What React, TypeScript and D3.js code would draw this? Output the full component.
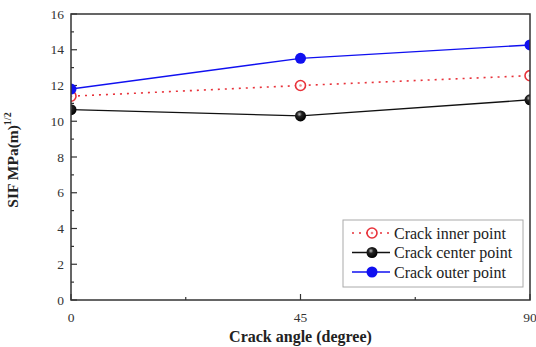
import * as d3 from "d3";
import React, { useEffect, useRef } from "react";

// crack angle (degree)
const ANGLES = [0, 45, 90];
const INNER = [11.4, 12.0, 12.55];
const CENTER = [10.65, 10.3, 11.2];
const OUTER = [11.8, 13.52, 14.27];

const Y_TICKS = [0, 2, 4, 6, 8, 10, 12, 14, 16];
const Y_MINOR = [1, 3, 5, 7, 9, 11, 13, 15];
const X_TICKS = [0, 45, 90];
const X_MINOR = [22.5, 67.5];

const SERIES = [
  { name: "Crack inner point", values: INNER, color: "#e8323a", dash: "2,5", kind: "open" },
  { name: "Crack center point", values: CENTER, color: "#111111", dash: null, kind: "ball" },
  { name: "Crack outer point", values: OUTER, color: "#1010f0", dash: null, kind: "solid" },
];

const FONT = "Liberation Serif, DejaVu Serif, serif";

export default function App() {
  const svgRef = useRef<SVGSVGElement | null>(null);

  useEffect(() => {
    const W = 536, H = 347;
    const m = { left: 71, right: 6, top: 14, bottom: 47 };
    const svg = d3.select(svgRef.current);
    svg.selectAll("*").remove();

    const x = d3.scaleLinear().domain([0, 90]).range([m.left, W - m.right]);
    const y = d3.scaleLinear().domain([0, 16]).range([H - m.bottom, m.top]);
    const x0 = x(0), x1 = x(90), y0 = y(0), y1 = y(16);

    const defs = svg.append("defs");
    defs.append("clipPath").attr("id", "plotclip")
      .append("rect").attr("x", x0).attr("y", y1).attr("width", x1 - x0).attr("height", y0 - y1);
    const grad = defs.append("radialGradient").attr("id", "ballgrad")
      .attr("cx", "40%").attr("cy", "35%").attr("r", "65%");
    grad.append("stop").attr("offset", "0%").attr("stop-color", "#bbbbbb");
    grad.append("stop").attr("offset", "35%").attr("stop-color", "#222222");
    grad.append("stop").attr("offset", "100%").attr("stop-color", "#000000");

    svg.append("rect").attr("width", W).attr("height", H).attr("fill", "#fff");

    // ticks (inside)
    const axisColor = "#333";
    const g = svg.append("g").attr("stroke", axisColor).attr("stroke-width", 1.2);
    g.selectAll("line.ym").data(Y_TICKS).join("line")
      .attr("x1", x0).attr("x2", x0 + 6).attr("y1", d => y(d)).attr("y2", d => y(d));
    g.selectAll("line.yn").data(Y_MINOR).join("line")
      .attr("x1", x0).attr("x2", x0 + 3).attr("y1", d => y(d)).attr("y2", d => y(d));
    g.selectAll("line.xm").data(X_TICKS).join("line")
      .attr("x1", d => x(d)).attr("x2", d => x(d)).attr("y1", y0).attr("y2", y0 - 6);
    g.selectAll("line.xn").data(X_MINOR).join("line")
      .attr("x1", d => x(d)).attr("x2", d => x(d)).attr("y1", y0).attr("y2", y0 - 3);

    // tick labels
    svg.append("g").selectAll("text").data(Y_TICKS).join("text")
      .attr("x", x0 - 7).attr("y", d => y(d)).attr("dy", "0.35em")
      .attr("text-anchor", "end").style("font-family", FONT).attr("font-size", 13.5)
      .attr("fill", "#333").text(d => d);
    svg.append("g").selectAll("text").data(X_TICKS).join("text")
      .attr("x", d => x(d)).attr("y", y0 + 22)
      .attr("text-anchor", "middle").style("font-family", FONT).attr("font-size", 13.5)
      .attr("fill", "#333").text(d => d);

    // series
    const plot = svg.append("g").attr("clip-path", "url(#plotclip)");
    const line = d3.line<number>().x((_, i) => x(ANGLES[i])).y(d => y(d));
    for (const s of SERIES) {
      plot.append("path").attr("d", line(s.values)!)
        .attr("fill", "none").attr("stroke", s.color).attr("stroke-width", s.dash ? 1.6 : 1.4)
        .attr("stroke-dasharray", s.dash);
    }
    const marker = (sel: any, s: typeof SERIES[number], cx: number, cy: number) => {
      if (s.kind === "open") {
        sel.append("circle").attr("cx", cx).attr("cy", cy).attr("r", 5)
          .attr("fill", "#fff").attr("stroke", s.color).attr("stroke-width", 1.6);
        sel.append("circle").attr("cx", cx).attr("cy", cy).attr("r", 1.3).attr("fill", s.color).attr("opacity", 0.6);
      } else if (s.kind === "ball") {
        sel.append("circle").attr("cx", cx).attr("cy", cy).attr("r", 5.5).attr("fill", "url(#ballgrad)");
      } else {
        sel.append("circle").attr("cx", cx).attr("cy", cy).attr("r", 5.5).attr("fill", s.color);
      }
    };
    for (const s of SERIES) {
      s.values.forEach((v, i) => marker(plot, s, x(ANGLES[i]), y(v)));
    }

    // frame
    svg.append("rect").attr("x", x0).attr("y", y1).attr("width", x1 - x0).attr("height", y0 - y1)
      .attr("fill", "none").attr("stroke", axisColor).attr("stroke-width", 1.5);

    // legend
    const lg = svg.append("g").attr("transform", "translate(343,220)");
    lg.append("rect").attr("width", 180).attr("height", 67)
      .attr("fill", "#fff").attr("stroke", "#aaa").attr("stroke-width", 1);
    SERIES.forEach((s, i) => {
      const ly = 13 + i * 19.5;
      lg.append("line").attr("x1", 9).attr("x2", 47).attr("y1", ly).attr("y2", ly)
        .attr("stroke", s.color).attr("stroke-width", 1.4).attr("stroke-dasharray", s.dash);
      marker(lg, s, 29, ly);
      lg.append("text").attr("x", 51).attr("y", ly).attr("dy", "0.35em")
        .style("font-family", FONT).attr("font-size", 16).attr("fill", "#222").text(s.name);
    });

    // axis titles
    svg.append("text").attr("x", (x0 + x1) / 2).attr("y", 342)
      .attr("text-anchor", "middle").style("font-family", FONT).attr("font-size", 16)
      .attr("font-weight", "bold").attr("fill", "#222").text("Crack angle (degree)");
    const yt = svg.append("text").attr("transform", `translate(18,160) rotate(-90)`)
      .attr("text-anchor", "middle").style("font-family", FONT).attr("font-size", 15.5)
      .attr("font-weight", "bold").attr("fill", "#222");
    yt.append("tspan").text("SIF MPa(m)");
    yt.append("tspan").attr("dy", -7).attr("font-size", 10).text("1/2");
  }, []);

  return (
    <div style={{ position: "absolute", left: 0, top: 0 }}>
      <svg ref={svgRef} width={536} height={347} style={{ display: "block" }} />
    </div>
  );
}
